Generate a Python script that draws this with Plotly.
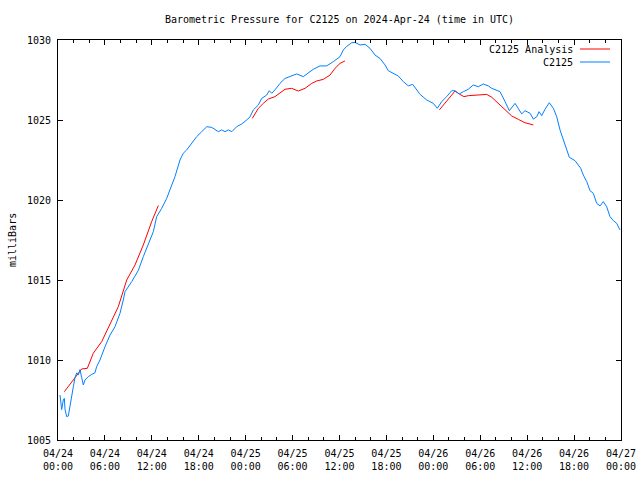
import pandas as pd
import plotly.graph_objects as go

BASE = pd.Timestamp("2024-04-24 00:00")

# C2125 observed pressure: hours since 2024-04-24 00:00 UTC, millibars
obs_hours = [0.26, 0.47, 0.68, 0.81, 0.9, 1.11, 1.32, 1.53, 1.75, 1.96, 2.17, 2.39, 2.6, 2.81,
             3.03, 3.24, 3.45, 3.88, 4.31, 4.73, 4.95, 5.37, 6.01, 6.65, 7.29, 7.93, 8.35, 8.57,
             9.43, 10.27, 10.91, 11.55, 12.19, 12.62, 13.26, 13.9, 14.32, 14.96, 15.6, 16.02,
             16.46, 17.1, 17.74, 18.38, 19.02, 19.66, 20.08, 20.5, 20.94, 21.36, 21.78, 22.22,
             22.85, 23.49, 24.13, 24.56, 24.98, 25.62, 26.05, 26.69, 27.02, 27.33, 27.75, 28.39,
             29.03, 29.67, 30.53, 31.37, 32.01, 32.65, 33.51, 34.36, 35.21, 36.07, 36.49, 36.92,
             37.56, 37.98, 38.62, 39.26, 39.9, 40.54, 41.18, 41.82, 42.24, 42.88, 43.52, 44.16,
             44.8, 45.36, 45.88, 46.3, 47.16, 48.0, 48.51, 49.07, 49.71, 50.35, 50.77, 51.32,
             51.84, 52.47, 53.11, 53.75, 54.39, 55.03, 55.47, 56.53, 57.17, 57.72, 58.45, 58.87,
             59.3, 59.72, 60.37, 60.79, 61.22, 61.52, 61.86, 62.28, 62.83, 63.35, 63.78, 64.2,
             64.62, 65.06, 65.39, 66.12, 66.85, 67.18, 67.62, 68.04, 68.46, 68.89, 69.32, 69.74,
             70.17, 70.59, 71.02, 71.45, 71.87]
obs_mb = [1007.81, 1006.9, 1007.5, 1007.6, 1006.9, 1006.46, 1006.5, 1007.2, 1007.7, 1008.33,
          1008.9, 1009.2, 1009.06, 1009.4, 1008.9, 1008.44, 1008.75, 1008.96, 1009.1, 1009.2,
          1009.6, 1010.0, 1010.83, 1011.56, 1012.08, 1012.92, 1013.75, 1014.27, 1014.9, 1015.6,
          1016.46, 1017.19, 1018.02, 1018.96, 1019.48, 1020.1, 1020.6, 1021.46, 1022.5, 1022.92,
          1023.13, 1023.54, 1023.96, 1024.27, 1024.58, 1024.54, 1024.38, 1024.27, 1024.38,
          1024.27, 1024.38, 1024.27, 1024.58, 1024.75, 1025.0, 1025.2, 1025.63, 1025.94,
          1026.35, 1026.56, 1026.83, 1026.67, 1026.88, 1027.29, 1027.6, 1027.71, 1027.88,
          1027.71, 1027.92, 1028.17, 1028.38, 1028.38, 1028.65, 1028.96, 1029.38, 1029.6,
          1029.83, 1029.85, 1029.69, 1029.73, 1029.48, 1029.06, 1028.85, 1028.44, 1028.08,
          1027.92, 1027.75, 1027.4, 1027.13, 1027.23, 1026.88, 1026.6, 1026.25, 1026.04,
          1025.73, 1026.15, 1026.46, 1026.83, 1026.83, 1026.63, 1026.77, 1026.92, 1027.19,
          1027.08, 1027.25, 1027.13, 1026.98, 1026.77, 1026.15, 1025.58, 1026.04, 1025.73,
          1025.38, 1025.58, 1025.42, 1025.06, 1025.2, 1025.52, 1025.27, 1025.67, 1026.08,
          1025.73, 1025.2, 1024.38, 1023.75, 1023.13, 1022.67, 1022.46, 1021.98, 1021.56,
          1021.15, 1020.58, 1020.42, 1019.79, 1019.63, 1019.9, 1019.58, 1018.96, 1018.71,
          1018.54, 1018.13]

# C2125 Analysis (None marks gaps between analysis runs)
ana_hours = [0.81, 2.17, 3.03, 3.75, 4.51, 5.59, 6.65, 7.71, 8.79, 9.85, 10.91, 11.98, 12.83,
             12.9,
             24.85, 25.19, 25.62, 26.26, 26.9, 27.75, 28.39, 29.03, 29.89, 30.73, 31.59, 32.45,
             33.09, 33.93, 34.79, 35.43, 36.07, 36.7,
             36.8,
             48.77, 49.49, 50.13, 50.77, 51.32, 51.92, 52.47, 53.33, 54.19, 54.83, 55.47, 56.31,
             57.17, 58.03, 58.87, 59.72, 60.79]
ana_mb = [1008.02, 1008.86, 1009.44, 1009.48, 1010.42, 1011.15, 1012.19, 1013.33, 1015.0,
          1015.94, 1017.19, 1018.65, 1019.65,
          None,
          1025.1, 1025.42, 1025.73, 1026.04, 1026.31, 1026.46, 1026.67, 1026.92, 1026.98,
          1026.81, 1026.98, 1027.29, 1027.44, 1027.54, 1027.81, 1028.23, 1028.54, 1028.69,
          None,
          1025.63, 1026.06, 1026.46, 1026.81, 1026.62, 1026.46, 1026.52, 1026.54, 1026.55,
          1026.6, 1026.42, 1026.04, 1025.63, 1025.25, 1025.04, 1024.83, 1024.69]

y_ticks = [1005, 1010, 1015, 1020, 1025, 1030]

RED = "#ff0000"
BLUE = "#0080ff"
FONT = "DejaVu Sans Mono"

obs_t = [BASE + pd.Timedelta(hours=h) for h in obs_hours]
ana_t = [BASE + pd.Timedelta(hours=h) for h in ana_hours]

fig = go.Figure()
fig.add_trace(go.Scatter(x=ana_t, y=ana_mb, mode="lines", name="C2125 Analysis",
                         line=dict(color=RED, width=1), connectgaps=False))
fig.add_trace(go.Scatter(x=obs_t, y=obs_mb, mode="lines", name="C2125",
                         line=dict(color=BLUE, width=1)))

W, H = 640, 480
L, R, T, B = 58, 19, 40, 40
pw, ph = W - L - R, H - T - B

def px(x):
    return (x - L) / pw

def py(y):
    return 1 - (y - T) / ph

fig.update_layout(
    width=W, height=H,
    margin=dict(l=L, r=R, t=T, b=B, autoexpand=False),
    paper_bgcolor="white", plot_bgcolor="white",
    showlegend=False,
    font=dict(family=FONT, size=10, color="black"),
    title=dict(text="Barometric Pressure for C2125 on 2024-Apr-24 (time in UTC)",
               x=339.5 / W, xanchor="center",
               y=1 - 19 / H, yanchor="middle",
               font=dict(family=FONT, size=10, color="black")),
    xaxis=dict(
        type="date",
        range=[BASE, BASE + pd.Timedelta(hours=72)],
        tick0=BASE, dtick=6 * 3600 * 1000,
        tickformat="%m/%d<br>%H:%M",
        ticks="inside", ticklen=5, tickcolor="black", tickwidth=1,
        ticklabelstandoff=4,
        minor=dict(ticks="inside", ticklen=3, dtick=2 * 3600 * 1000, tickcolor="black"),
        showline=True, linecolor="black", linewidth=1, mirror="allticks",
        showgrid=False, zeroline=False,
        tickfont=dict(family=FONT, size=10, color="black"),
    ),
    yaxis=dict(
        range=[1005, 1030],
        tickvals=y_ticks, ticktext=[str(v) for v in y_ticks],
        ticks="inside", ticklen=5, tickcolor="black", tickwidth=1,
        ticklabelstandoff=4,
        showline=True, linecolor="black", linewidth=1, mirror="allticks",
        showgrid=False, zeroline=False,
        tickfont=dict(family=FONT, size=10, color="black"),
    ),
    annotations=[
        dict(text="milliBars", textangle=-90, xref="paper", yref="paper",
             x=px(12), y=py(240), xanchor="center", yanchor="middle",
             showarrow=False, font=dict(family=FONT, size=10, color="black")),
        dict(text="C2125 Analysis", xref="paper", yref="paper",
             x=px(575), y=py(49.5), xanchor="right", yanchor="middle",
             showarrow=False, font=dict(family=FONT, size=10, color="black")),
        dict(text="C2125", xref="paper", yref="paper",
             x=px(575), y=py(62.5), xanchor="right", yanchor="middle",
             showarrow=False, font=dict(family=FONT, size=10, color="black")),
    ],
    shapes=[
        dict(type="line", xref="paper", yref="paper", x0=px(580), x1=px(610),
             y0=py(49), y1=py(49), line=dict(color=RED, width=1)),
        dict(type="line", xref="paper", yref="paper", x0=px(580), x1=px(610),
             y0=py(62), y1=py(62), line=dict(color=BLUE, width=1)),
    ],
)

fig.write_html("out.html", config={"displayModeBar": False},
               post_script="document.body.style.margin='0';document.body.style.overflow='hidden';")
